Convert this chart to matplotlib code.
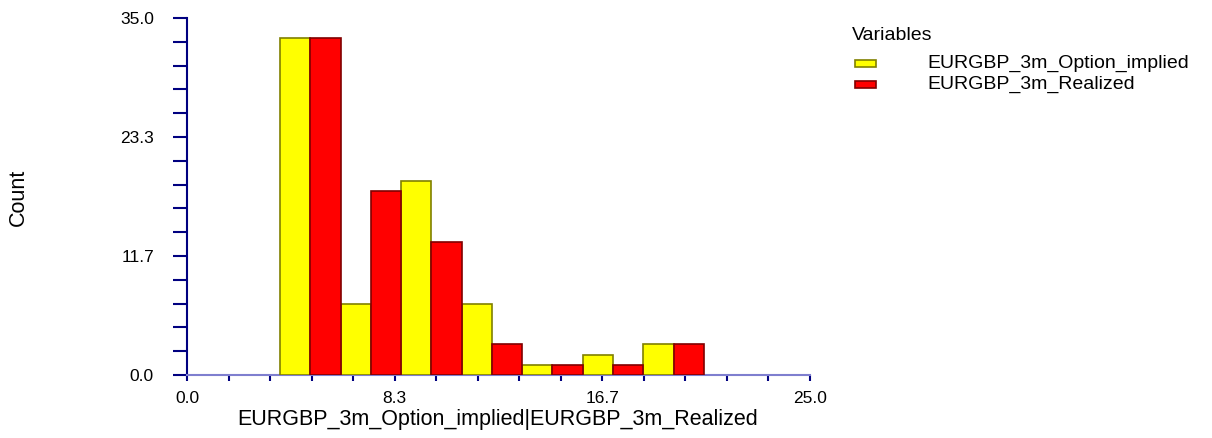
import matplotlib
matplotlib.use("Agg")
import matplotlib.pyplot as plt
import numpy as np
from matplotlib.patches import Rectangle

# ========= data =========
bin_start = 3.73
bin_width = 2.43
implied_counts = [33, 7, 19, 7, 1, 2, 3]
realized_counts = [33, 18, 13, 3, 1, 1, 3]
series_names = ["EURGBP_3m_Option_implied", "EURGBP_3m_Realized"]
x_ticklabels = ["0.0", "8.3", "16.7", "25.0"]
y_ticklabels = ["0.0", "11.7", "23.3", "35.0"]

plt.rcParams["font.family"] = ["Liberation Sans", "DejaVu Sans"]
navy = "#000080"
W, H = 1212, 438
px = 72 / 100  # points per pixel

fig = plt.figure(figsize=(W / 100, H / 100), dpi=100)
ax = fig.add_axes([187 / W, 1 - 375 / H, 623 / W, 357 / H])

edges = bin_start + bin_width * np.arange(len(implied_counts))
half = bin_width / 2
ax.bar(edges, implied_counts, width=half, align="edge",
       color="#ffff00", edgecolor="#808000", linewidth=1.2, zorder=3)
ax.bar(edges + half, realized_counts, width=half, align="edge",
       color="#ff0000", edgecolor="#800000", linewidth=1.2, zorder=3)

ax.set_xlim(0, 25)
ax.set_ylim(0, 35)
ax.set_xticks(np.linspace(0, 25, 4))
ax.set_xticklabels(x_ticklabels)
ax.set_xticks(np.linspace(0, 25, 16), minor=True)
ax.set_yticks(np.linspace(0, 35, 4))
ax.set_yticklabels(y_ticklabels)
ax.set_yticks(np.linspace(0, 35, 16), minor=True)

for s in ["top", "right"]:
    ax.spines[s].set_visible(False)
ax.spines["left"].set_color(navy)
ax.spines["left"].set_linewidth(1.5)
ax.spines["bottom"].set_color("#7f7fcf")
ax.spines["bottom"].set_linewidth(1.5)

ax.tick_params(axis="y", which="both", direction="out", length=14 * px, width=1.5,
               color=navy, labelsize=12.5, pad=19 * px)
ax.tick_params(axis="x", which="both", direction="out", length=6 * px, width=1.5,
               color=navy, labelsize=12.5, pad=10 * px)

fig.text(498 / W, 1 - 420 / H, "EURGBP_3m_Option_implied|EURGBP_3m_Realized",
         fontsize=15.5, ha="center", va="center")
fig.text(18 / W, 1 - 197 / H, "Count", rotation=90, fontsize=15.5,
         ha="center", va="center")

# legend
fig.text(852 / W, 1 - 36 / H, "Variables", fontsize=14, ha="left", va="center")
legend_colors = [("#ffff00", "#808000"), ("#ff0000", "#800000")]
for i, (name, (fc, ec)) in enumerate(zip(series_names, legend_colors)):
    yc = 63 + i * 21
    fig.patches.append(Rectangle((855 / W, 1 - (yc + 4) / H), 21 / W, 7 / H,
                                 transform=fig.transFigure, facecolor=fc,
                                 edgecolor=ec, linewidth=1.2))
    fig.text(927 / W, 1 - yc / H, name, fontsize=14, ha="left", va="center")

fig.savefig("out.png", dpi=100)
